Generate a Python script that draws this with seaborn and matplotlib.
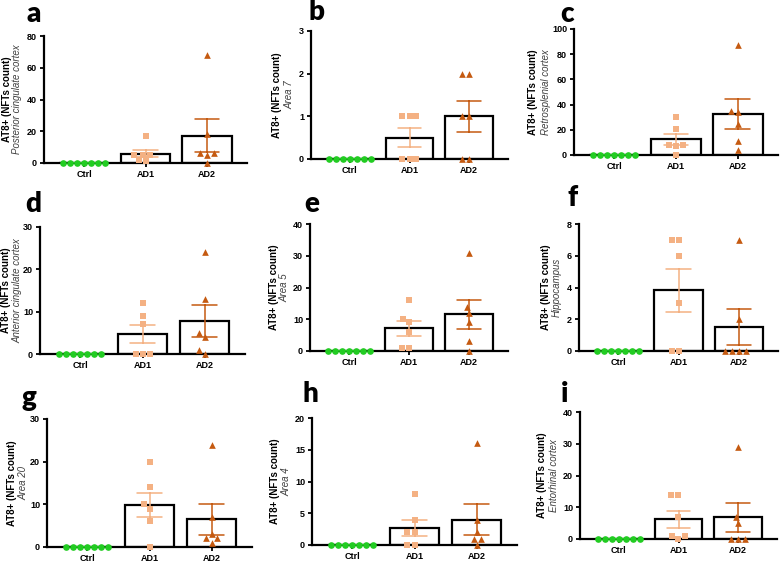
import pandas as pd
import matplotlib
matplotlib.use("Agg")
import matplotlib.pyplot as plt
import matplotlib.transforms as mtransforms
import seaborn as sns

sns.set_style("ticks")
plt.rcParams['font.family'] = ['Liberation Sans', 'DejaVu Sans']
for key in ["text.color", "axes.labelcolor", "xtick.color", "ytick.color", "axes.edgecolor"]:
    plt.rcParams[key] = "black"

# data (NFT counts per case)
groups = ["Ctrl", "AD1", "AD2"]
letters = ["a", "b", "c", "d", "e", "f", "g", "h", "i"]
regions = ["Posterior cingulate cortex", "Area 7", "Retrosplenial cortex",
           "Anterior cingulate cortex", "Area 5", "Hippocampus",
           "Area 20", "Area 4", "Entorhinal cortex"]
y_max = [80, 3, 100, 30, 40, 8, 30, 20, 40]
y_step = [20, 1, 20, 10, 10, 2, 10, 5, 10]

ctrl = [0, 0, 0, 0, 0, 0, 0]
ad1_values = [
    [17, 5, 5, 5, 2, 1],
    [1, 1, 1, 0, 0, 0],
    [30, 21, 8, 8, 7, 0],
    [12, 9, 7, 0, 0, 0],
    [16, 10, 9, 6, 1, 1],
    [7, 7, 6, 3, 0, 0],
    [20, 14, 10, 9, 6, 0],
    [8, 4, 2, 2, 0, 0],
    [14, 14, 7, 1, 1, 0],
]
ad2_values = [
    [68, 18, 6, 6, 5, 0],
    [2, 2, 1, 1, 0, 0],
    [87, 35, 34, 25, 11, 4],
    [24, 13, 5, 4, 1, 0],
    [31, 14, 12, 9, 3, 0],
    [7, 2, 0, 0, 0, 0],
    [24, 7, 3, 2, 2, 1],
    [16, 4, 2, 1, 1, 0],
    [29, 7, 5, 0, 0, 0],
]

colors = ["#22CC22", "#F4B183", "#C55A11"]
markers = ["o", "s", "^"]

# panel boxes in pixels: left, right, top (y of max tick), bottom (y of zero)
boxes = [(44, 247, 36, 163), (311, 508, 31, 159), (574, 778, 29, 155),
         (40, 245, 227, 354), (310, 508, 224, 351), (579, 778, 224, 351),
         (47, 252, 419, 547), (312, 517, 418, 545), (580, 777, 412, 539)]
letter_pos = [(34, 14), (316, 12), (567, 14), (33, 204), (312, 204), (573, 198),
              (29, 398), (310, 394), (565, 394)]
bold_off = [37, 34, 41, 34, 36, 33, 35, 37, 38]
ital_off = [27, 22, 28, 23, 26, 22, 24, 26, 26]

W, H = 782, 563
fig = plt.figure(figsize=(W / 100, H / 100), dpi=100)

for k in range(9):
    left, right, top, bottom = boxes[k]
    ax = fig.add_axes([left / W, 1 - bottom / H, (right - left) / W, (bottom - top) / H])

    df = pd.DataFrame({
        "group": ["Ctrl"] * len(ctrl) + ["AD1"] * len(ad1_values[k]) + ["AD2"] * len(ad2_values[k]),
        "value": ctrl + ad1_values[k] + ad2_values[k],
    })

    for g, c, m in zip(groups, colors, markers):
        sub = df[df["group"] == g]
        sns.barplot(data=sub, x="group", y="value", order=groups, errorbar="se",
                    capsize=0.4, color="white", edgecolor="black", linewidth=1.6,
                    width=0.8, err_kws={"color": c, "linewidth": 1.1, "zorder": 4},
                    ax=ax)
    for g, c, m in zip(groups, colors, markers):
        sub = df[df["group"] == g]
        sns.swarmplot(data=sub, x="group", y="value", order=groups, color=c,
                      marker=m, size=4.8, linewidth=0, ax=ax, zorder=3)
    for coll in ax.collections:
        coll.set_clip_on(False)

    ax.set_xlim(-0.65, 2.65)
    ax.set_ylim(0, y_max[k])
    ax.set_yticks(range(0, y_max[k] + 1, y_step[k]))
    ax.set_xlabel("")
    ax.set_ylabel("")
    sns.despine(ax=ax)
    for s in ["left", "bottom"]:
        ax.spines[s].set_linewidth(1.6)
    ax.tick_params(axis="both", length=3, width=1.3, labelsize=6.5, pad=2)
    for lab in ax.get_xticklabels() + ax.get_yticklabels():
        lab.set_fontweight("bold")

    tb = mtransforms.offset_copy(ax.transAxes, fig=fig, x=-bold_off[k], y=0, units="dots")
    ax.text(0, 0.5, "AT8+ (NFTs count)", transform=tb, rotation=90, ha="center",
            va="center", fontsize=7, fontweight="bold")
    ti = mtransforms.offset_copy(ax.transAxes, fig=fig, x=-ital_off[k], y=0, units="dots")
    ax.text(0, 0.5, regions[k], transform=ti, rotation=90, ha="center",
            va="center", fontsize=7, style="italic", color="#404040")

    lx, ly = letter_pos[k]
    fig.text(lx / W, 1 - ly / H, letters[k], ha="center", va="center", color="black",
             fontsize=20, fontweight="heavy", family=["Lato", "DejaVu Sans"])

fig.savefig("out.png", dpi=100)
